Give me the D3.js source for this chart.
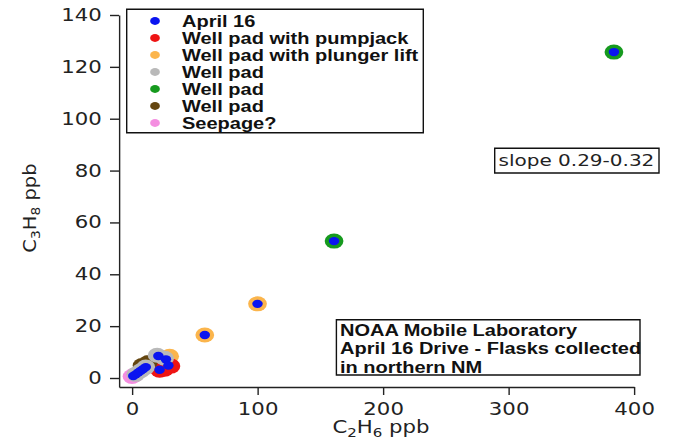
<!DOCTYPE html>
<html lang="en">
<head>
    <meta charset="UTF-8">
    <title>C3H8 vs C2H6 - April 16 flasks</title>
    <style>
        body { margin: 0; background: #fff; overflow: hidden; }
        svg { display: block; }
        .axis path, .axis line { stroke: #222; stroke-width: 1.4; vector-effect: non-scaling-stroke; }
        .axis text { font-family: "DejaVu Sans", Verdana, sans-serif; font-size: 17px; fill: #222; }
        .box { fill: #fff; stroke: #111; stroke-width: 1.4; vector-effect: non-scaling-stroke; }
        .bold { font-family: "Liberation Sans", Arial, Helvetica, sans-serif; font-weight: bold; font-size: 16px; fill: #111; }
        .title { font-family: "DejaVu Sans", Verdana, sans-serif; font-size: 17px; fill: #222; }
    </style>
</head>
<body>
<div id="chart"></div>
<script src="https://cdnjs.cloudflare.com/ajax/libs/d3/7.8.5/d3.min.js"></script>
<script>
    // all flasks from the April 16 drive (blue centre dots)
    const april16X = [1, 3, 5, 7, 9, 11, 21, 27, 22, 29, 58, 100, 161, 384];
    const april16Y = [0.8, 1.4, 2.1, 2.8, 3.5, 4.2, 8.5, 7.2, 3.2, 4.8, 16.6, 28.6, 52.8, 125.7];

    // source categories (coloured halos)
    const pumpjackX = [22, 26, 31];
    const pumpjackY = [3.0, 3.4, 4.6];
    const plungerX = [30, 58, 100];
    const plungerY = [8.4, 16.6, 28.6];
    const padGrayX = [20, 26, 3, 7, 11];
    const padGrayY = [8.8, 7.6, 1.4, 2.8, 4.2];
    const padGreenX = [161, 384];
    const padGreenY = [52.8, 125.7];
    const padBrownX = [8, 13];
    const padBrownY = [4.8, 6.0];
    const seepageX = [0, 2];
    const seepageY = [0.6, 1.2];

    const legendLabels = ["April 16", "Well pad with pumpjack", "Well pad with plunger lift",
        "Well pad", "Well pad", "Well pad", "Seepage?"];
    const legendColors = ["#0a14f0", "#ee1414", "#fbb54c", "#b9b9b9", "#169a1e", "#644610", "#f48ee0"];

    const xTicks = [0, 100, 200, 300, 400];
    const yTicks = [0, 20, 40, 60, 80, 100, 120, 140];

    const W = 677, H = 448;
    const SX = 1.25; // the original figure is stretched horizontally

    const svg = d3.select("#chart").append("svg")
        .attr("width", W)
        .attr("height", H);

    const g = svg.append("g").attr("transform", `scale(${SX},1)`);

    const x = d3.scaleLinear().domain([-10.36, 400]).range([119 / SX, 634 / SX]);
    const y = d3.scaleLinear().domain([-3.47, 140]).range([387, 15]);

    // axes (offset, Igor style)
    g.append("g")
        .attr("class", "axis")
        .attr("transform", `translate(${x.range()[0]},0)`)
        .call(d3.axisLeft(y).tickValues(yTicks).tickSize(7.2).tickSizeOuter(0).tickPadding(6.6));

    g.append("g")
        .attr("class", "axis")
        .attr("transform", `translate(0,${y.range()[0]})`)
        .call(d3.axisBottom(x).tickValues(xTicks).tickSize(8).tickSizeOuter(0).tickPadding(8));

    // axis titles with subscripts
    const xTitle = g.append("text")
        .attr("class", "title")
        .attr("x", 381 / SX)
        .attr("y", 433)
        .attr("text-anchor", "middle");
    xTitle.append("tspan").text("C");
    xTitle.append("tspan").attr("dy", 4).attr("font-size", 12).text("2");
    xTitle.append("tspan").attr("dy", -4).text("H");
    xTitle.append("tspan").attr("dy", 4).attr("font-size", 12).text("6");
    xTitle.append("tspan").attr("dy", -4).text(" ppb");

    const yTitle = g.append("text")
        .attr("class", "title")
        .attr("transform", `translate(${36 / SX},208) rotate(-90) scale(1.15,0.8)`)
        .attr("text-anchor", "middle");
    yTitle.append("tspan").text("C");
    yTitle.append("tspan").attr("dy", 4).attr("font-size", 12).text("3");
    yTitle.append("tspan").attr("dy", -4).text("H");
    yTitle.append("tspan").attr("dy", 4).attr("font-size", 12).text("8");
    yTitle.append("tspan").attr("dy", -4).text(" ppb");

    // halos, then blue centres on top
    const zip = (xs, ys) => xs.map((v, i) => [v, ys[i]]);
    const haloSets = [
        { pts: zip(plungerX, plungerY), color: legendColors[2] },
        { pts: zip(pumpjackX, pumpjackY), color: legendColors[1] },
        { pts: zip(padBrownX, padBrownY), color: legendColors[5] },
        { pts: zip(seepageX, seepageY), color: legendColors[6] },
        { pts: zip(padGrayX, padGrayY), color: legendColors[3] },
        { pts: zip(padGreenX, padGreenY), color: legendColors[4] }
    ];

    haloSets.forEach(set => {
        g.append("g").selectAll("circle")
            .data(set.pts)
            .enter().append("circle")
            .attr("cx", d => x(d[0]))
            .attr("cy", d => y(d[1]))
            .attr("r", 7.5)
            .attr("fill", set.color);
    });

    g.append("g").selectAll("circle")
        .data(zip(april16X, april16Y))
        .enter().append("circle")
        .attr("cx", d => x(d[0]))
        .attr("cy", d => y(d[1]))
        .attr("r", 4.2)
        .attr("fill", legendColors[0]);

    // legend
    const legend = g.append("g");
    legend.append("rect")
        .attr("class", "box")
        .attr("x", 126.7 / SX)
        .attr("y", 9.3)
        .attr("width", (423.3 - 126.7) / SX)
        .attr("height", 123.4);

    legendLabels.forEach((label, i) => {
        const cy = 21 + i * 17;
        legend.append("circle")
            .attr("cx", 155 / SX)
            .attr("cy", cy)
            .attr("r", 3.9)
            .attr("fill", legendColors[i]);
        legend.append("text")
            .attr("class", "bold")
            .attr("x", 182 / SX)
            .attr("y", cy + 5.6)
            .text(label);
    });

    // slope annotation
    g.append("rect")
        .attr("class", "box")
        .attr("x", 494.7 / SX)
        .attr("y", 148.2)
        .attr("width", (659 - 494.7) / SX)
        .attr("height", 24.8);
    g.append("text")
        .attr("class", "title")
        .attr("font-size", 16)
        .style("font-size", "16px")
        .attr("x", 498.5 / SX)
        .attr("y", 166.4)
        .text("slope 0.29-0.32");

    // info box
    const infoLines = ["NOAA Mobile Laboratory", "April 16 Drive - Flasks collected", "in northern NM"];
    g.append("rect")
        .attr("class", "box")
        .attr("x", 336.4 / SX)
        .attr("y", 319.7)
        .attr("width", (640 - 336.4) / SX)
        .attr("height", 55.3);
    infoLines.forEach((line, i) => {
        g.append("text")
            .attr("class", "bold")
            .attr("x", 340 / SX)
            .attr("y", 336 + i * 18.5)
            .text(line);
    });
</script>
</body>
</html>
